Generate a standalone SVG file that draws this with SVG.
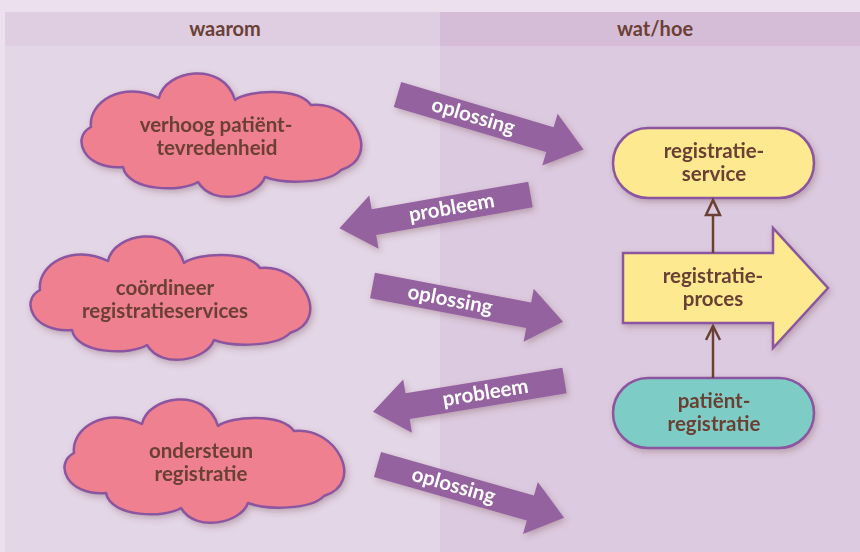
<svg xmlns="http://www.w3.org/2000/svg" width="860" height="552" viewBox="0 0 860 552">
  <style>
    .hdr { font-family: Lato, "Noto Sans", sans-serif; font-weight: 700; font-size: 20px; fill: #6b4034; text-anchor: middle; }
    .lbl { font-family: Lato, "Noto Sans", sans-serif; font-weight: 700; font-size: 20.5px; fill: #6b4034; text-anchor: middle; }
    .alb { font-family: Lato, "Noto Sans", sans-serif; font-weight: 700; font-size: 20.5px; fill: #ffffff; text-anchor: middle; }
    .cloud { fill: #ef808f; stroke: #8b55a0; stroke-width: 2.5; stroke-linejoin: round; }
    .yel { fill: #fde98f; stroke: #8b55a0; stroke-width: 2.5; }
    .teal { fill: #7dccc6; stroke: #8b55a0; stroke-width: 2.5; }
    .flow { fill: #9562a0; }
    .link { fill: none; stroke: #6b4034; stroke-width: 2.5; }
  </style>
  <defs>
    <filter id="shadow" x="-20%" y="-20%" width="140%" height="150%">
      <feDropShadow dx="2" dy="3" stdDeviation="3" flood-color="#6b3a3a" flood-opacity="0.3"/>
    </filter>
    <!-- cloud outline, local box 0..275 x 0..127 -->
    <path id="cloudShape" d="M8,55 C5,30 40,8 76,26 C82,-2 140,-12 152,28 C165,18 215,15 228,33 C270,28 300,85 258,98 C245,112 200,112 182,105 C175,125 130,135 115,110 C100,120 45,120 40,95 C0,98 -12,65 8,55 Z"/>
    <!-- broad flow arrows, tail at origin -->
    <polygon id="arrRight" points="0,-13 159,-13 159,-27 194,0 159,27 159,13 0,13"/>
    <polygon id="arrLeft" points="0,-13 -159,-13 -159,-27 -194,0 -159,27 -159,13 0,13"/>
  </defs>

  <!-- background and columns -->
  <rect x="0" y="0" width="860" height="552" fill="#ece0ee"/>
  <rect x="5" y="12" width="435" height="34" fill="#dfcde1"/>
  <rect x="440" y="12" width="420" height="34" fill="#d6bdd7"/>
  <rect x="5" y="46" width="435" height="506" fill="#e3d6e7"/>
  <rect x="440" y="46" width="420" height="506" fill="#dccbe0"/>
  <text class="hdr" x="225" y="36">waarom</text>
  <text class="hdr" x="655" y="36">wat/hoe</text>

  <!-- goals -->
  <g id="goal-tevredenheid" filter="url(#shadow)">
    <use href="#cloudShape" class="cloud" transform="translate(83,72)"/>
    <text class="lbl" x="216" y="132">verhoog patiënt-</text>
    <text class="lbl" x="217" y="155">tevredenheid</text>
  </g>
  <g id="goal-coordineer" filter="url(#shadow)">
    <use href="#cloudShape" class="cloud" transform="translate(32,235)"/>
    <text class="lbl" x="165" y="295">coördineer</text>
    <text class="lbl" x="165" y="318">registratieservices</text>
  </g>
  <g id="goal-ondersteun" filter="url(#shadow)">
    <use href="#cloudShape" class="cloud" transform="translate(66,398)"/>
    <text class="lbl" x="201" y="458">ondersteun</text>
    <text class="lbl" x="201" y="481">registratie</text>
  </g>

  <!-- elements -->
  <g id="registratieservice" filter="url(#shadow)">
    <rect class="yel" x="613" y="128" width="201" height="70" rx="35"/>
    <text class="lbl" x="714" y="158">registratie-</text>
    <text class="lbl" x="714" y="181">service</text>
  </g>
  <g id="registratieproces" filter="url(#shadow)">
    <polygon class="yel" points="623,253 773,253 773,228 828,288 773,348 773,323 623,323"/>
    <text class="lbl" x="713" y="283">registratie-</text>
    <text class="lbl" x="713" y="306">proces</text>
  </g>
  <g id="patientregistratie" filter="url(#shadow)">
    <rect class="teal" x="613" y="378" width="201" height="70" rx="35"/>
    <text class="lbl" x="714" y="408">patiënt-</text>
    <text class="lbl" x="714" y="431">registratie</text>
  </g>

  <!-- connectors -->
  <g id="connectors">
    <line class="link" x1="713" y1="253" x2="713" y2="215"/>
    <polygon class="link" points="706,215 720,215 713,200"/>
    <line class="link" x1="713" y1="378" x2="713" y2="326"/>
    <polyline class="link" points="706,340 713,326 720,340"/>

    <g filter="url(#shadow)">
      <g transform="translate(397.5,94.5) rotate(16.5)">
        <use href="#arrRight" class="flow"/>
        <text class="alb" x="79" y="6">oplossing</text>
      </g>
      <g transform="translate(530.5,194.5) rotate(-10)">
        <use href="#arrLeft" class="flow"/>
        <text class="alb" x="-80" y="6">probleem</text>
      </g>
      <g transform="translate(372.5,285.5) rotate(10.8)">
        <use href="#arrRight" class="flow"/>
        <text class="alb" x="79" y="6">oplossing</text>
      </g>
      <g transform="translate(564.5,380.5) rotate(-9.3)">
        <use href="#arrLeft" class="flow"/>
        <text class="alb" x="-80" y="6">probleem</text>
      </g>
      <g transform="translate(377.5,464.5) rotate(15.9)">
        <use href="#arrRight" class="flow"/>
        <text class="alb" x="79" y="6">oplossing</text>
      </g>
    </g>
  </g>
</svg>
